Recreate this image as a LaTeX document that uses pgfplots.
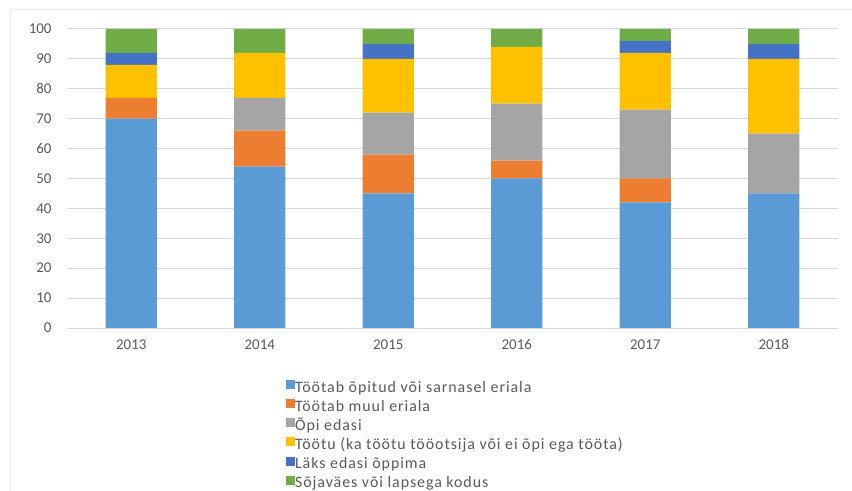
\documentclass[border=0pt]{standalone}
\usepackage{pgfplots}
\pgfplotsset{compat=1.18}
\usepackage{fontspec}
\setmainfont{Carlito}
\newfontfamily\legfont[LetterSpace=6]{Carlito}
\definecolor{cBlue}{HTML}{5B9BD5}
\definecolor{cOrange}{HTML}{ED7D31}
\definecolor{cGray}{HTML}{A5A5A5}
\definecolor{cYellow}{HTML}{FFC000}
\definecolor{cDBlue}{HTML}{4472C4}
\definecolor{cGreen}{HTML}{70AD47}
\definecolor{gridgray}{HTML}{D9D9D9}
\definecolor{tickgray}{HTML}{595959}
\begin{document}
\begin{tikzpicture}
\useasboundingbox (0,0) rectangle (852bp,491bp);
\draw[color=black!7, line width=1bp] (10bp,0) -- (10bp,481bp) -- (852bp,481bp);
\begin{axis}[
  at={(67bp,163bp)}, anchor=south west, scale only axis,
  width=771bp, height=299bp,
  ybar stacked, bar width=0.4,
  xmin=-0.5, xmax=5.5, ymin=0, ymax=100,
  xtick={0,1,2,3,4,5},
  xticklabels={2013,2014,2015,2016,2017,2018},
  ytick={0,10,...,100},
  ymajorgrids, grid style={color=gridgray, line width=1bp},
  axis x line*=bottom, axis y line*=left,
  y axis line style={draw=none},
  x axis line style={color=gridgray, line width=1bp, -},
  major tick length=0pt,
  /pgf/number format/assume math mode=true,
  ticklabel style={font=\fontsize{15}{18}\selectfont, text=tickgray},
  yticklabel style={xshift=-12bp},
  xticklabel style={yshift=-8bp},
  every axis plot/.append style={draw=none},
  legend image code/.code={\fill[#1] (0bp,-1bp) rectangle (9bp,8bp);},
  legend cell align=left,
  legend style={at={(axis description cs:0.280,-0.167)}, anchor=north west,
    draw=none, fill=none, font=\legfont\fontsize{16}{18}\selectfont, text=tickgray,
    nodes={inner sep=0pt, text height=11bp, text depth=3bp},
    row sep=4.1bp,
    /tikz/every even column/.append style={column sep=3bp}},
]
\addplot[fill=cBlue] coordinates {(0,70) (1,54) (2,45) (3,50) (4,42) (5,45)};
\addplot[fill=cOrange] coordinates {(0,7) (1,12) (2,13) (3,6) (4,8) (5,0)};
\addplot[fill=cGray] coordinates {(0,0) (1,11) (2,14) (3,19) (4,23) (5,20)};
\addplot[fill=cYellow] coordinates {(0,11) (1,15) (2,18) (3,19) (4,19) (5,25)};
\addplot[fill=cDBlue] coordinates {(0,4) (1,0) (2,5) (3,0) (4,4) (5,5)};
\addplot[fill=cGreen] coordinates {(0,8) (1,8) (2,5) (3,6) (4,4) (5,5)};
\legend{Töötab õpitud või sarnasel eriala, Töötab muul eriala, Õpi edasi, Töötu (ka töötu tööotsija või ei õpi ega tööta), Läks edasi õppima, Sõjaväes või lapsega kodus}
\end{axis}
\end{tikzpicture}
\end{document}
